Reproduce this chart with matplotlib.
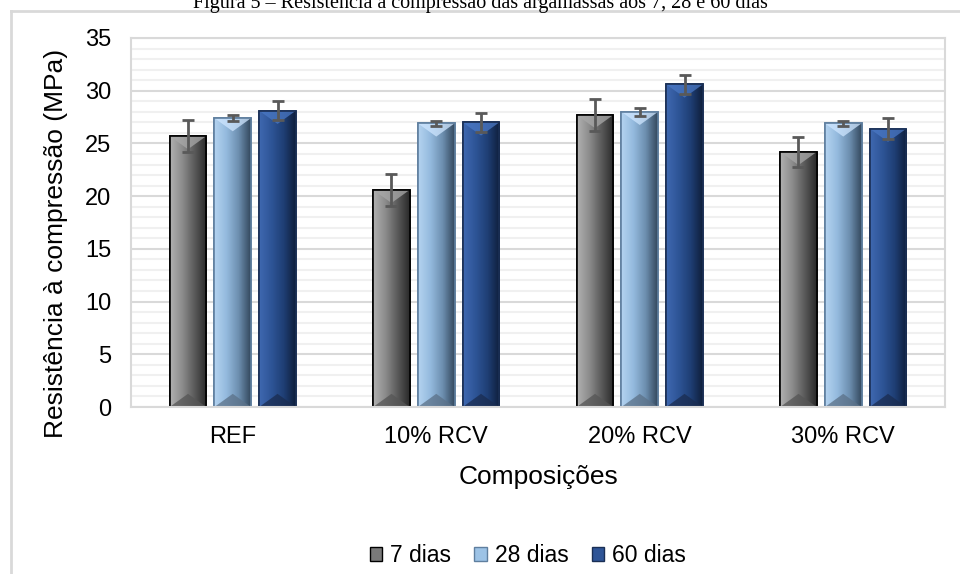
import numpy as np
import matplotlib
matplotlib.use('Agg')
import matplotlib.pyplot as plt
from matplotlib.colors import LinearSegmentedColormap
from matplotlib.patches import Patch, Polygon
from matplotlib.lines import Line2D

# Dados
composicoes = ['REF', '10% RCV', '20% RCV', '30% RCV']
series = ['7 dias', '28 dias', '60 dias']
r7 = [25.7, 20.6, 27.7, 24.2]
r28 = [27.4, 26.9, 28.0, 26.9]
r60 = [28.1, 27.0, 30.6, 26.4]
e7 = [1.5, 1.5, 1.5, 1.4]
e28 = [0.3, 0.2, 0.4, 0.2]
e60 = [0.9, 0.9, 0.9, 1.0]

valores = [r7, r28, r60]
erros = [e7, e28, e60]
gradientes = [['#b0b0b0', '#8c8c8c', '#5a5a5a', '#2a2a2a'],
              ['#b4d3f0', '#94bade', '#6d8fb0', '#34495e'],
              ['#3f68b0', '#2e5597', '#1f3f75', '#0f1f3c']]
topo = ['#a8a8a8', '#cfe6ff', '#4a78c4']
base = ['#555555', '#5b7188', '#1a2c50']
bordas = ['#000000', '#5f7f9f', '#1a2f55']
cores_leg = ['#7a7a7a', '#9dc3e6', '#2f5597']

plt.rcParams['font.family'] = ['Liberation Sans', 'DejaVu Sans']

fig = plt.figure(figsize=(9.6, 5.74), dpi=100)
ax = fig.add_axes([131/960, 1-407/574, (945-131)/960, (407-38)/574])

x = np.arange(len(composicoes))
largura = 0.18
passo = 0.22
bisel = 1.25

for i in range(3):
    pos = x + (i - 1) * passo
    barras = ax.bar(pos, valores[i], largura, color=gradientes[i][1],
                    edgecolor=bordas[i], linewidth=1.2, zorder=2)
    cmap = LinearSegmentedColormap.from_list('g%d' % i, gradientes[i])
    grad = np.linspace(0, 1, 64).reshape(1, -1)
    for b in barras:
        x0, w, h = b.get_x(), b.get_width(), b.get_height()
        im = ax.imshow(grad, extent=[x0, x0 + w, 0, h], cmap=cmap,
                       aspect='auto', zorder=2.1)
        im.set_clip_path(b)
        # bisel no topo e na base
        ax.add_patch(Polygon([[x0, h], [x0 + w, h], [x0 + w/2, h - bisel]],
                             closed=True, facecolor=topo[i], alpha=0.75,
                             edgecolor='none', zorder=2.15))
        ax.add_patch(Polygon([[x0, 0], [x0 + w, 0], [x0 + w/2, bisel]],
                             closed=True, facecolor=base[i], alpha=0.75,
                             edgecolor='none', zorder=2.15))
        ax.bar(x0 + w/2, h, w, fill=False, edgecolor=bordas[i],
               linewidth=1.2, zorder=2.2)
    ax.errorbar(pos, valores[i], yerr=erros[i], fmt='none',
                ecolor='#595959', elinewidth=2, capsize=4.5, capthick=2,
                zorder=3)

ax.set_xlim(-0.5, len(composicoes) - 0.5)
ax.set_ylim(0, 35)
ax.set_yticks(np.arange(0, 36, 5))
ax.set_yticks(np.arange(0, 36, 1), minor=True)
ax.grid(axis='y', which='major', color='#d9d9d9', linewidth=1.5, zorder=0)
ax.grid(axis='y', which='minor', color='#f0f0f0', linewidth=1.5, zorder=0)
ax.set_axisbelow(True)
ax.set_xticks(x)
ax.set_xticklabels(composicoes)
ax.tick_params(axis='both', which='both', length=0, labelsize=17,
               colors='#000000')
ax.tick_params(axis='x', pad=14)
ax.tick_params(axis='y', pad=14)
for s in ax.spines.values():
    s.set_color('#d9d9d9')
    s.set_linewidth(1.5)

ax.set_xlabel('Composições', fontsize=19, labelpad=12)
ax.set_ylabel('Resistência à compressão (MPa)', fontsize=19)
ax.yaxis.set_label_coords(-0.0774, 0.444)

handles = [Patch(facecolor=cores_leg[i], edgecolor=bordas[i]) for i in range(3)]
fig.legend(handles, series, loc='center', bbox_to_anchor=(528/960, 1-556/574),
           ncol=3, frameon=False, fontsize=16.5, handlelength=0.55,
           handleheight=0.55, handletextpad=0.35, columnspacing=1.0)

# moldura do gráfico
fig.add_artist(Line2D([11/960, 1], [1-11/574, 1-11/574], color='#d9d9d9',
                      linewidth=2, transform=fig.transFigure))
fig.add_artist(Line2D([11/960, 11/960], [0, 1-11/574], color='#d9d9d9',
                      linewidth=2, transform=fig.transFigure))

fig.text(0.5, 1-8/574, 'Figura 5 – Resistência à compressão das argamassas aos 7, 28 e 60 dias',
         ha='center', va='baseline', fontsize=14.5, family=['Liberation Serif', 'DejaVu Serif'])

fig.savefig('out.png', dpi=100)
